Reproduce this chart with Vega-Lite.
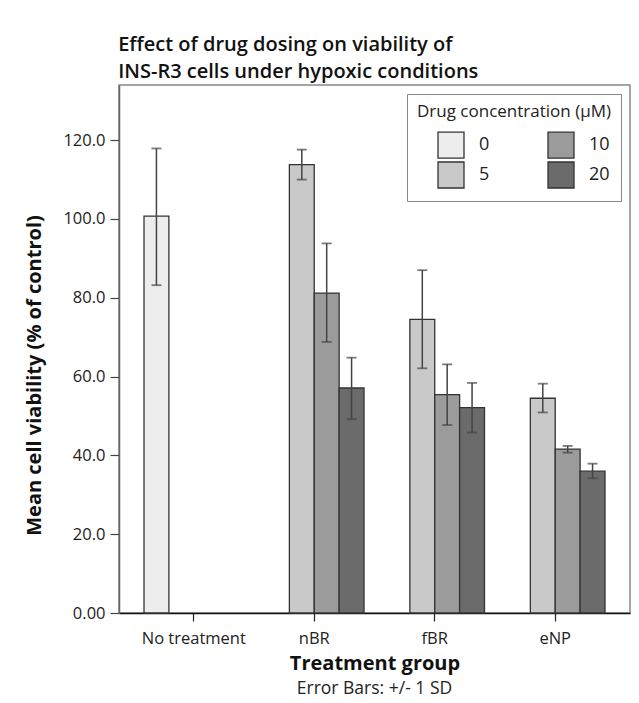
{
  "$schema": "https://vega.github.io/schema/vega-lite/v6.json",
  "background": "white",
  "padding": {"left": 24, "top": 35, "right": 5, "bottom": 5},
  "title": {
    "text": ["Effect of drug dosing on viability of", "INS-R3 cells under hypoxic conditions"],
    "anchor": "start",
    "frame": "bounds",
    "dx": 94,
    "font": "Open Sans",
    "fontSize": 20,
    "fontWeight": 600,
    "lineHeight": 27,
    "color": "#111",
    "offset": 2
  },
  "vconcat": [
    {
      "width": 511,
      "height": 528,
      "title": {
        "text": "Error Bars: +/- 1 SD",
        "orient": "bottom",
        "anchor": "middle",
        "frame": "group",
        "font": "Open Sans",
        "fontSize": 17.5,
        "fontWeight": "normal",
        "color": "#222",
        "offset": 6
      },
      "data": {
        "values": [
          {"group": "No treatment", "conc": "0", "mean": 100.7, "lo": 83.2, "hi": 117.9},
          {"group": "nBR", "conc": "5", "mean": 113.8, "lo": 110.0, "hi": 117.6},
          {"group": "nBR", "conc": "10", "mean": 81.2, "lo": 68.8, "hi": 93.8},
          {"group": "nBR", "conc": "20", "mean": 57.1, "lo": 49.2, "hi": 64.8},
          {"group": "fBR", "conc": "5", "mean": 74.5, "lo": 62.1, "hi": 87.0},
          {"group": "fBR", "conc": "10", "mean": 55.4, "lo": 47.7, "hi": 63.1},
          {"group": "fBR", "conc": "20", "mean": 52.1, "lo": 45.8, "hi": 58.4},
          {"group": "eNP", "conc": "5", "mean": 54.5, "lo": 50.9, "hi": 58.2},
          {"group": "eNP", "conc": "10", "mean": 41.6, "lo": 40.7, "hi": 42.4},
          {"group": "eNP", "conc": "20", "mean": 36.0, "lo": 34.2, "hi": 37.9}
        ]
      },
      "encoding": {
        "x": {
          "field": "group",
          "type": "nominal",
          "sort": ["No treatment", "nBR", "fBR", "eNP"],
          "scale": {"paddingInner": 0.174, "paddingOuter": 0.2075},
          "axis": {
            "title": "Treatment group",
            "labelAngle": 0,
            "labelFontSize": 16.5,
            "labelColor": "#222",
            "labelPadding": 9,
            "tickSize": 8,
            "tickColor": "#222",
            "tickWidth": 1.2,
            "domainColor": "#111",
            "domainWidth": 1.5,
            "titleFontSize": 20,
            "titleFontWeight": "bold",
            "titleColor": "#111",
            "titlePadding": 7
          }
        },
        "xOffset": {
          "field": "conc",
          "type": "ordinal",
          "sort": ["0", "5", "10", "20"],
          "scale": {"paddingInner": 0, "paddingOuter": 0}
        }
      },
      "layer": [
        {
          "mark": {"type": "bar", "stroke": "#333", "strokeWidth": 1.3},
          "encoding": {
            "y": {
              "field": "mean",
              "type": "quantitative",
              "scale": {"domain": [0, 134], "nice": false},
              "axis": {
                "title": "Mean cell viability (% of control)",
                "values": [0, 20, 40, 60, 80, 100, 120],
                "labelExpr": "datum.value == 0 ? '0.00' : format(datum.value, '.1f')",
                "grid": false,
                "labelFontSize": 16.5,
                "labelColor": "#222",
                "labelPadding": 5,
                "tickSize": 9,
                "tickColor": "#444",
                "tickWidth": 1.2,
                "domainColor": "#666",
                "domainWidth": 1.5,
                "titleFontSize": 20,
                "titleFontWeight": "bold",
                "titleColor": "#111",
                "titlePadding": 18,
                "titleY": 290
              }
            },
            "color": {
              "field": "conc",
              "type": "nominal",
              "scale": {
                "domain": ["0", "5", "10", "20"],
                "range": ["#ededed", "#c9c9c9", "#9b9b9b", "#6b6b6b"]
              },
              "legend": {
                "title": "Drug concentration (µM)",
                "titleLimit": 400,
                "orient": "top-right",
                "offset": 9,
                "columns": 2,
                "columnPadding": 37,
                "rowPadding": -4,
                "symbolType": "square",
                "symbolSize": 676,
                "symbolStrokeColor": "#333",
                "symbolStrokeWidth": 1.3,
                "symbolOffset": 20,
                "labelOffset": 14,
                "labelFontSize": 18,
                "labelColor": "#222",
                "titleFontSize": 17,
                "titleFontWeight": "normal",
                "titleColor": "#222",
                "titlePadding": 10,
                "padding": 10,
                "fillColor": "white",
                "strokeColor": "#888"
              }
            }
          }
        },
        {
          "mark": {"type": "rule", "color": "#444", "strokeWidth": 1.5},
          "encoding": {
            "y": {"field": "lo", "type": "quantitative"},
            "y2": {"field": "hi"}
          }
        },
        {
          "mark": {"type": "tick", "color": "#444", "size": 10, "thickness": 1.8},
          "encoding": {
            "y": {"field": "hi", "type": "quantitative"}
          }
        },
        {
          "mark": {"type": "tick", "color": "#444", "size": 10, "thickness": 1.8},
          "encoding": {
            "y": {"field": "lo", "type": "quantitative"}
          }
        }
      ]
    }
  ],
  "config": {
    "font": "Open Sans",
    "view": {"stroke": "#888", "strokeWidth": 1.5},
    "axis": {"labelFont": "Open Sans", "titleFont": "Open Sans"},
    "legend": {"labelFont": "Open Sans", "titleFont": "Open Sans"}
  }
}
